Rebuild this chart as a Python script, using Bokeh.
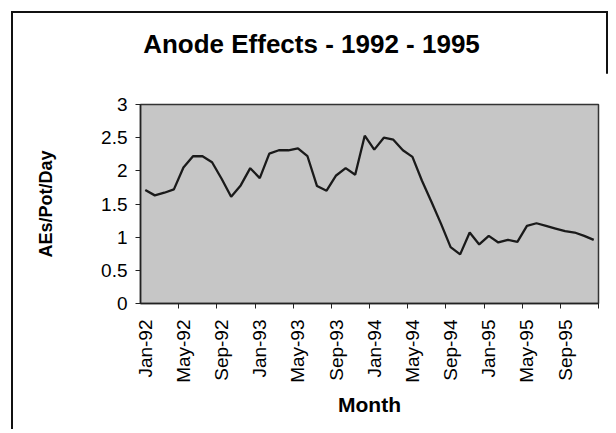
import math
from bokeh.plotting import figure
from bokeh.layouts import column
from bokeh.models import (FixedTicker, NumeralTickFormatter, Range1d,
                          ColumnDataSource, Div)
from bokeh.embed import file_html
from bokeh.resources import INLINE

# ---- data -------------------------------------------------------------
month_index = list(range(48))  # Jan-92 .. Dec-95
aes_per_pot_day = [
    1.71, 1.63, 1.67, 1.72, 2.05, 2.22, 2.22, 2.13, 1.88, 1.61, 1.78, 2.04,
    1.89, 2.26, 2.31, 2.31, 2.34, 2.22, 1.77, 1.70, 1.93, 2.04, 1.94, 2.53,
    2.32, 2.50, 2.47, 2.31, 2.21, 1.85, 1.53, 1.20, 0.85, 0.74, 1.07, 0.89,
    1.02, 0.92, 0.96, 0.93, 1.17, 1.21, 1.17, 1.13, 1.09, 1.07, 1.02, 0.96,
]
tick_positions = [0, 4, 8, 12, 16, 20, 24, 28, 32, 36, 40, 44]
tick_labels = ["Jan-92", "May-92", "Sep-92", "Jan-93", "May-93", "Sep-93",
               "Jan-94", "May-94", "Sep-94", "Jan-95", "May-95", "Sep-95"]
y_ticks = [0, 0.5, 1, 1.5, 2, 2.5, 3]
title_text = "Anode Effects - 1992 - 1995"

FONT = "Liberation Sans"
W = 597
TITLE_H = 60
PLOT_H = 358

src = ColumnDataSource(dict(x=month_index, y=aes_per_pot_day))

title_div = Div(
    text=f'<div style="padding-top:16px; line-height:30px; text-align:center; '
         f'width:{W}px; font-family:\'{FONT}\'; font-size:26px; '
         f'font-weight:bold; color:black;">{title_text}</div>',
    width=W, height=TITLE_H, sizing_mode="fixed", margin=0)

p = figure(width=W, height=PLOT_H, output_backend="svg", toolbar_location=None,
           sizing_mode="fixed", margin=0,
           x_range=Range1d(-0.5, 47.5), y_range=Range1d(0, 3),
           min_border_left=127, min_border_right=12,
           min_border_top=91 - TITLE_H, min_border_bottom=128)

p.background_fill_color = "#c6c6c6"
p.border_fill_color = "white"
p.outline_line_color = "#333333"
p.outline_line_width = 1.5
p.xgrid.visible = False
p.ygrid.visible = False

p.line("x", "y", source=src, line_color="#1a1a1a", line_width=2.3)

# x axis
xa = p.xaxis[0]
xa.ticker = FixedTicker(ticks=tick_positions,
                        minor_ticks=[3.5 + 4 * k for k in range(12)])
xa.major_label_overrides = {t: l for t, l in zip(tick_positions, tick_labels)}
xa.major_label_orientation = math.pi / 2
xa.major_tick_out = 0
xa.major_tick_in = 0
xa.minor_tick_out = 5
xa.minor_tick_in = 0
xa.minor_tick_line_color = "#222222"
xa.major_label_standoff = 11
xa.major_label_text_font = FONT
xa.major_label_text_font_size = "19px"
xa.major_label_text_color = "black"
xa.axis_line_color = "#222222"
xa.axis_line_width = 1.5
xa.axis_label = "Month"
xa.axis_label_text_font = FONT
xa.axis_label_text_font_size = "21px"
xa.axis_label_text_font_style = "bold"
xa.axis_label_text_color = "black"
xa.axis_label_standoff = 7

# y axis
ya = p.yaxis[0]
ya.ticker = FixedTicker(ticks=y_ticks, minor_ticks=[])
ya.formatter = NumeralTickFormatter(format="0.[0]")
ya.major_tick_out = 5
ya.major_tick_in = 0
ya.major_tick_line_color = "#222222"
ya.minor_tick_out = 0
ya.minor_tick_in = 0
ya.major_label_standoff = 8
ya.major_label_text_font = FONT
ya.major_label_text_font_size = "19px"
ya.major_label_text_color = "black"
ya.axis_line_color = "#222222"
ya.axis_line_width = 1.5
ya.axis_label = "AEs/Pot/Day"
ya.axis_label_text_font = FONT
ya.axis_label_text_font_size = "18px"
ya.axis_label_text_font_style = "bold"
ya.axis_label_text_color = "black"
ya.axis_label_standoff = 42

# outer chart frame (scanned chart border: left, top and right edges)
layout = column(title_div, p, sizing_mode="fixed", width=W,
                height=TITLE_H + PLOT_H, spacing=0,
                styles={"margin": "11px 0 0 11px",
                        "border-left": "2px solid #111",
                        "border-top": "2px solid #111",
                        "border-right": "2px solid #111"})

open("out.html", "w").write(file_html(layout, INLINE))
